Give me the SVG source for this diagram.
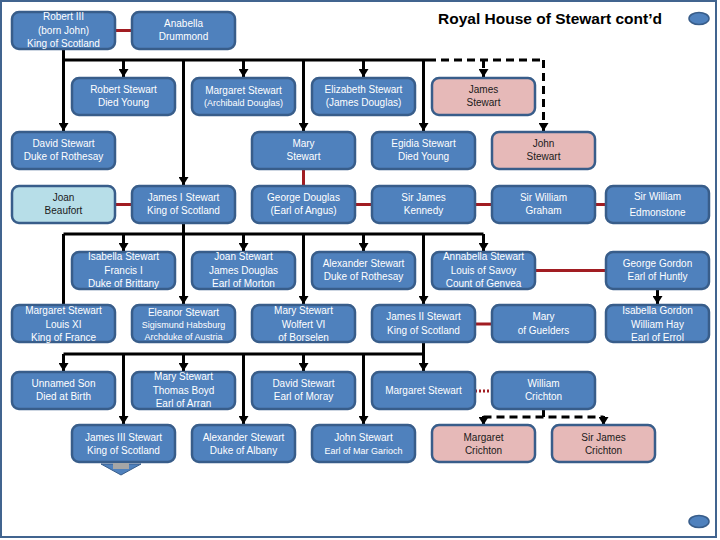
<svg xmlns="http://www.w3.org/2000/svg" width="720" height="540" viewBox="0 0 720 540">
<defs>
<style>
.b{fill:#4f81bd;stroke:#385d8a;stroke-width:2.5}
.p{fill:#e6b9b8;stroke:#385d8a;stroke-width:2.5}
.l{fill:#b7dee8;stroke:#385d8a;stroke-width:2.5}
text{font-family:"Liberation Sans",Arial,sans-serif;font-size:10px;text-anchor:middle}
.w{fill:#ffffff}
.k{fill:#1a1a1a}
.s{font-size:9px}
.c{fill:none;stroke:#000;stroke-width:3}
.d{fill:none;stroke:#000;stroke-width:3;stroke-dasharray:8 5}
.r{fill:none;stroke:#a11d22;stroke-width:3}
.rd{fill:none;stroke:#a11d22;stroke-width:3;stroke-dasharray:2 2}
.t{font-size:15.5px;font-weight:bold;fill:#000}
</style>
<marker id="ah" viewBox="0 0 8 10" refX="8" refY="5" markerWidth="8" markerHeight="10" markerUnits="userSpaceOnUse" orient="auto">
<path d="M0,0 L8,5 L0,10 z" fill="#000"/>
</marker>
</defs>
<rect x="0" y="0" width="720" height="540" fill="#ffffff"/>
<rect x="1" y="1" width="715" height="536" fill="none" stroke="#41648f" stroke-width="2"/>
<text class="t" x="550" y="24">Royal House of Stewart cont’d</text>
<ellipse cx="699" cy="18.5" rx="10" ry="6" fill="#4f81bd" stroke="#385d8a" stroke-width="1.5"/>
<ellipse cx="699" cy="521.5" rx="10" ry="6" fill="#4f81bd" stroke="#385d8a" stroke-width="1.5"/>

<g id="connectors">
<path class="r" d="M115,30.5 H132"/>
<path class="r" d="M303.5,169 V186"/>
<path class="r" d="M115,204.5 H132 M355,204.5 H372 M475,204.5 H492 M595,204.5 H606"/>
<path class="r" d="M535,270.5 H606"/>
<path class="r" d="M475,324 H492"/>
<path class="rd" d="M475,391 H492"/>
<path class="c" d="M63.5,49 V60 M63.5,60 H428"/>
<path class="d" d="M428,60 H543.5"/>
<path class="c" marker-end="url(#ah)" d="M63.5,60 V131"/>
<path class="c" marker-end="url(#ah)" d="M123.5,60 V77"/>
<path class="c" marker-end="url(#ah)" d="M183.5,60 V185"/>
<path class="c" marker-end="url(#ah)" d="M243.5,60 V77"/>
<path class="c" marker-end="url(#ah)" d="M303.5,60 V131"/>
<path class="c" marker-end="url(#ah)" d="M363.5,60 V77"/>
<path class="c" marker-end="url(#ah)" d="M423.5,60 V131"/>
<path class="d" marker-end="url(#ah)" d="M483.5,60 V77"/>
<path class="d" marker-end="url(#ah)" d="M543.5,60 V131"/>
<path class="c" d="M183.5,223 V234 M63.5,234 H483.5"/>
<path class="c" d="M63.5,234 V305"/>
<path class="c" marker-end="url(#ah)" d="M123.5,234 V251"/>
<path class="c" marker-end="url(#ah)" d="M183.5,234 V304"/>
<path class="c" marker-end="url(#ah)" d="M243.5,234 V251"/>
<path class="c" marker-end="url(#ah)" d="M303.5,234 V304"/>
<path class="c" marker-end="url(#ah)" d="M363.5,234 V251"/>
<path class="c" marker-end="url(#ah)" d="M423.5,234 V304"/>
<path class="c" marker-end="url(#ah)" d="M483.5,234 V251"/>
<path class="c" marker-end="url(#ah)" d="M657.5,289 V304"/>
<path class="c" d="M423.5,342 V354 M63.5,354 H423.5"/>
<path class="c" marker-end="url(#ah)" d="M63.5,354 V371"/>
<path class="c" marker-end="url(#ah)" d="M123.5,354 V424"/>
<path class="c" marker-end="url(#ah)" d="M183.5,354 V371"/>
<path class="c" marker-end="url(#ah)" d="M243.5,354 V424"/>
<path class="c" marker-end="url(#ah)" d="M303.5,354 V371"/>
<path class="c" marker-end="url(#ah)" d="M363.5,354 V424"/>
<path class="c" marker-end="url(#ah)" d="M423.5,354 V371"/>
<path class="d" d="M543.5,409 V417 M483.5,417 H603.5"/>
<path class="c" marker-end="url(#ah)" d="M483.5,416 V425"/>
<path class="c" marker-end="url(#ah)" d="M603.5,416 V425"/>
</g>

<g id="n-robert3"><rect class="b" x="12" y="12" width="103" height="37" rx="7"/><text class="w" x="63.5" y="20">Robert III</text><text class="w" x="63.5" y="34">(born John)</text><text class="w" x="63.5" y="47">King of Scotland</text></g>
<g id="n-anabella"><rect class="b" x="132" y="12" width="103" height="37" rx="7"/><text class="w" x="183.5" y="27">Anabella</text><text class="w" x="183.5" y="40">Drummond</text></g>

<g id="n-robert-stewart"><rect class="b" x="72" y="78" width="103" height="37" rx="7"/><text class="w" x="123.5" y="93">Robert Stewart</text><text class="w" x="123.5" y="106">Died Young</text></g>
<g id="n-margaret-archibald"><rect class="b" x="192" y="78" width="103" height="37" rx="7"/><text class="w" x="243.5" y="94">Margaret Stewart</text><text class="w s" x="243.5" y="106">(Archibald Douglas)</text></g>
<g id="n-elizabeth"><rect class="b" x="312" y="78" width="103" height="37" rx="7"/><text class="w" x="363.5" y="93">Elizabeth Stewart</text><text class="w" x="363.5" y="106">(James Douglas)</text></g>
<g id="n-james-stewart"><rect class="p" x="432" y="78" width="103" height="37" rx="7"/><text class="k" x="483.5" y="93">James</text><text class="k" x="483.5" y="106">Stewart</text></g>

<g id="n-david-rothesay"><rect class="b" x="12" y="132" width="103" height="37" rx="7"/><text class="w" x="63.5" y="147">David Stewart</text><text class="w" x="63.5" y="160">Duke of Rothesay</text></g>
<g id="n-mary-stewart"><rect class="b" x="252" y="132" width="103" height="37" rx="7"/><text class="w" x="303.5" y="147">Mary</text><text class="w" x="303.5" y="160">Stewart</text></g>
<g id="n-egidia"><rect class="b" x="372" y="132" width="103" height="37" rx="7"/><text class="w" x="423.5" y="147">Egidia Stewart</text><text class="w" x="423.5" y="160">Died Young</text></g>
<g id="n-john-stewart"><rect class="p" x="492" y="132" width="103" height="37" rx="7"/><text class="k" x="543.5" y="147">John</text><text class="k" x="543.5" y="160">Stewart</text></g>

<g id="n-joan-beaufort"><rect class="l" x="12" y="186" width="103" height="37" rx="7"/><text class="k" x="63.5" y="201">Joan</text><text class="k" x="63.5" y="214">Beaufort</text></g>
<g id="n-james1"><rect class="b" x="132" y="186" width="103" height="37" rx="7"/><text class="w" x="183.5" y="201">James I Stewart</text><text class="w" x="183.5" y="214">King of Scotland</text></g>
<g id="n-george-douglas"><rect class="b" x="252" y="186" width="103" height="37" rx="7"/><text class="w" x="303.5" y="201">George Douglas</text><text class="w" x="303.5" y="214">(Earl of Angus)</text></g>
<g id="n-kennedy"><rect class="b" x="372" y="186" width="103" height="37" rx="7"/><text class="w" x="423.5" y="201">Sir James</text><text class="w" x="423.5" y="214">Kennedy</text></g>
<g id="n-graham"><rect class="b" x="492" y="186" width="103" height="37" rx="7"/><text class="w" x="543.5" y="201">Sir William</text><text class="w" x="543.5" y="214">Graham</text></g>
<g id="n-edmonstone"><rect class="b" x="606" y="186" width="103" height="37" rx="7"/><text class="w" x="657.5" y="200">Sir William</text><text class="w" x="657.5" y="216">Edmonstone</text></g>

<g id="n-isabella-stewart"><rect class="b" x="72" y="252" width="103" height="37" rx="7"/><text class="w" x="123.5" y="260">Isabella Stewart</text><text class="w" x="123.5" y="273.5">Francis I</text><text class="w" x="123.5" y="287">Duke of Brittany</text></g>
<g id="n-joan-stewart"><rect class="b" x="192" y="252" width="103" height="37" rx="7"/><text class="w" x="243.5" y="260">Joan Stewart</text><text class="w" x="243.5" y="273.5">James Douglas</text><text class="w" x="243.5" y="287">Earl of Morton</text></g>
<g id="n-alexander-rothesay"><rect class="b" x="312" y="252" width="103" height="37" rx="7"/><text class="w" x="363.5" y="267">Alexander Stewart</text><text class="w" x="363.5" y="280">Duke of Rothesay</text></g>
<g id="n-annabella-stewart"><rect class="b" x="432" y="252" width="103" height="37" rx="7"/><text class="w" x="483.5" y="260">Annabella Stewart</text><text class="w" x="483.5" y="273.5">Louis of Savoy</text><text class="w" x="483.5" y="287">Count of Genvea</text></g>
<g id="n-george-gordon"><rect class="b" x="606" y="252" width="103" height="37" rx="7"/><text class="w" x="657.5" y="267">George Gordon</text><text class="w" x="657.5" y="280">Earl of Huntly</text></g>

<g id="n-margaret-louis"><rect class="b" x="12" y="305" width="103" height="37" rx="7"/><text class="w" x="63.5" y="314">Margaret Stewart</text><text class="w" x="63.5" y="328">Louis XI</text><text class="w" x="63.5" y="341">King of France</text></g>
<g id="n-eleanor"><rect class="b" x="132" y="305" width="103" height="37" rx="7"/><text class="w" x="183.5" y="316">Eleanor Stewart</text><text class="w s" x="183.5" y="328">Sigismund Habsburg</text><text class="w s" x="183.5" y="340">Archduke of Austria</text></g>
<g id="n-mary-wolfert"><rect class="b" x="252" y="305" width="103" height="37" rx="7"/><text class="w" x="303.5" y="314">Mary Stewart</text><text class="w" x="303.5" y="328">Wolfert VI</text><text class="w" x="303.5" y="341">of Borselen</text></g>
<g id="n-james2"><rect class="b" x="372" y="305" width="103" height="37" rx="7"/><text class="w" x="423.5" y="320">James II  Stewart</text><text class="w" x="423.5" y="334">King of Scotland</text></g>
<g id="n-mary-gueldres"><rect class="b" x="492" y="305" width="103" height="37" rx="7"/><text class="w" x="543.5" y="320">Mary</text><text class="w" x="543.5" y="334">of Guelders</text></g>
<g id="n-isabella-gordon"><rect class="b" x="606" y="305" width="103" height="37" rx="7"/><text class="w" x="657.5" y="314">Isabella Gordon</text><text class="w" x="657.5" y="328">William Hay</text><text class="w" x="657.5" y="341">Earl of Errol</text></g>

<g id="n-unnamed-son"><rect class="b" x="12" y="372" width="103" height="37" rx="7"/><text class="w" x="63.5" y="386.5">Unnamed Son</text><text class="w" x="63.5" y="400">Died at Birth</text></g>
<g id="n-mary-boyd"><rect class="b" x="132" y="372" width="103" height="37" rx="7"/><text class="w" x="183.5" y="379.5">Mary Stewart</text><text class="w" x="183.5" y="394">Thomas Boyd</text><text class="w" x="183.5" y="406.5">Earl of Arran</text></g>
<g id="n-david-moray"><rect class="b" x="252" y="372" width="103" height="37" rx="7"/><text class="w" x="303.5" y="386.5">David Stewart</text><text class="w" x="303.5" y="400">Earl of Moray</text></g>
<g id="n-margaret-stewart"><rect class="b" x="372" y="372" width="103" height="37" rx="7"/><text class="w" x="423.5" y="394">Margaret Stewart</text></g>
<g id="n-william-crichton"><rect class="b" x="492" y="372" width="103" height="37" rx="7"/><text class="w" x="543.5" y="386.5">William</text><text class="w" x="543.5" y="400">Crichton</text></g>

<g id="n-james3"><rect class="b" x="72" y="425" width="103" height="37" rx="7"/><text class="w" x="123.5" y="441">James III Stewart</text><text class="w" x="123.5" y="454">King of Scotland</text></g>
<g id="n-alexander-albany"><rect class="b" x="192" y="425" width="103" height="37" rx="7"/><text class="w" x="243.5" y="441">Alexander Stewart</text><text class="w" x="243.5" y="454">Duke of Albany</text></g>
<g id="n-john-mar"><rect class="b" x="312" y="425" width="103" height="37" rx="7"/><text class="w" x="363.5" y="441">John Stewart</text><text class="w s" x="363.5" y="454">Earl of Mar Garioch</text></g>
<g id="n-margaret-crichton"><rect class="p" x="432" y="425" width="103" height="37" rx="7"/><text class="k" x="483.5" y="441">Margaret</text><text class="k" x="483.5" y="454">Crichton</text></g>
<g id="n-james-crichton"><rect class="p" x="552" y="425" width="103" height="37" rx="7"/><text class="k" x="603.5" y="441">Sir James</text><text class="k" x="603.5" y="454">Crichton</text></g>

<g id="continue-arrow">
<path d="M101,464 H141 L121,475 Z" fill="#4f81bd" stroke="#385d8a" stroke-width="1"/>
<rect x="113" y="463" width="16" height="6" fill="#a6a6a6"/>
</g>
</svg>
